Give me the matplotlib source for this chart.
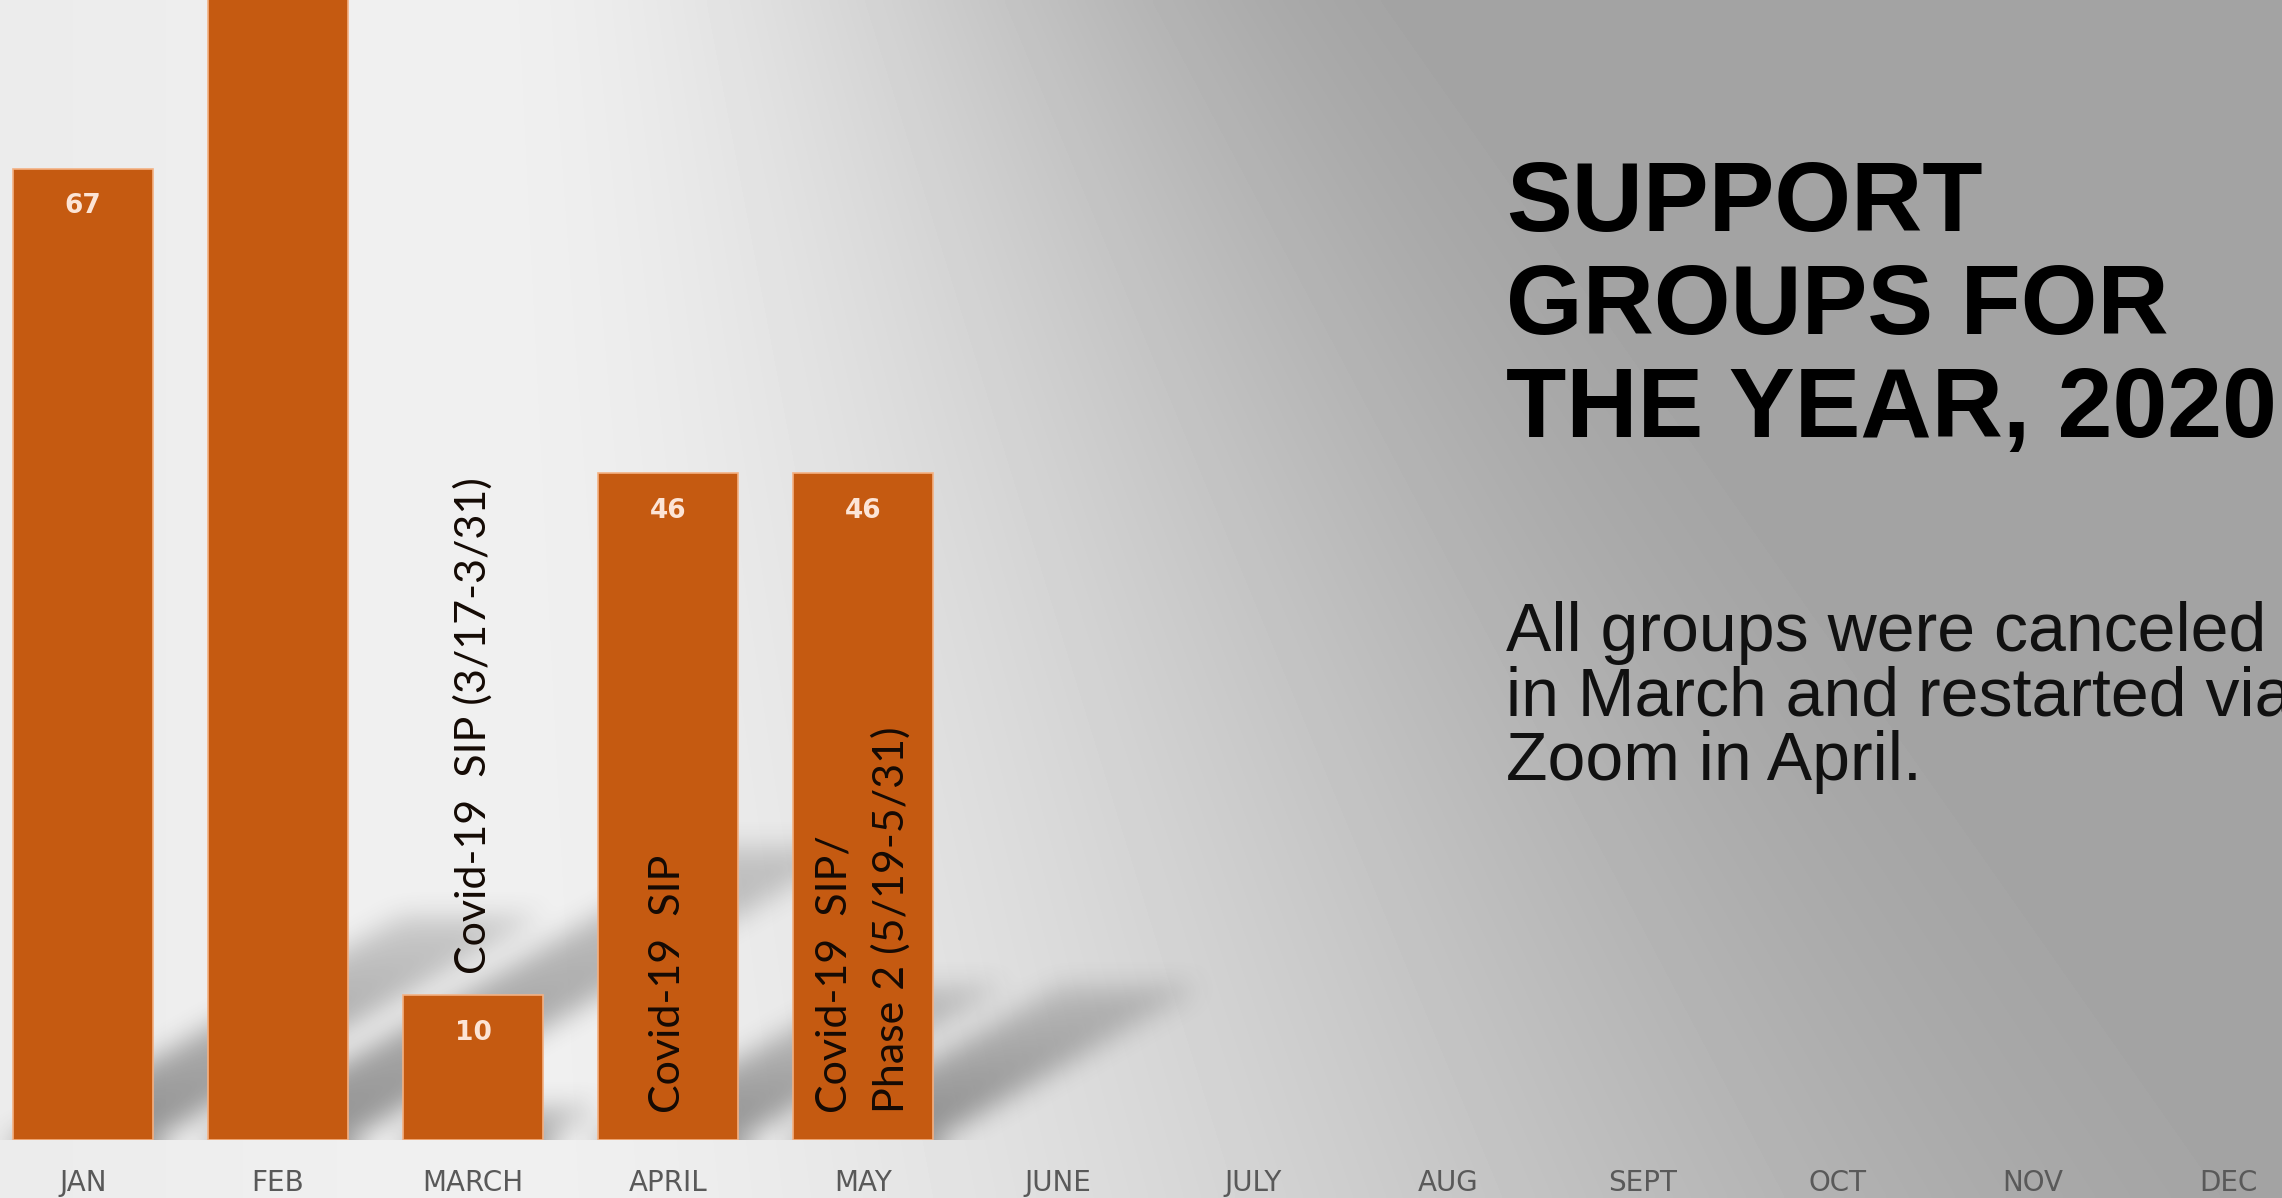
import numpy as np
import matplotlib
matplotlib.use('Agg')
import matplotlib.pyplot as plt

# Data
months = ['JAN', 'FEB', 'MARCH', 'APRIL', 'MAY', 'JUNE', 'JULY',
          'AUG', 'SEPT', 'OCT', 'NOV', 'DEC']
groups = [67, 88, 10, 46, 46]   # FEB runs off the top of the slide, value not shown
note_month = [2, 3, 4]
note_text = ['Covid-19  SIP (3/17-3/31)', 'Covid-19  SIP',
             'Covid-19  SIP/\nPhase 2 (5/19-5/31)']
note_inside = [False, True, True]
title_lines = ['SUPPORT', 'GROUPS FOR', 'THE YEAR, 2020']
body_lines = ['All groups were canceled', 'in March and restarted via',
              'Zoom in April.']

W, H, DPI = 2282, 1198, 100
bar_color = '#C55A11'
narrow = ['Liberation Sans Narrow', 'DejaVu Sans']

fig = plt.figure(figsize=(W / DPI, H / DPI), dpi=DPI)

# grey slide background: light on the left, flat grey on the right
bg = fig.add_axes([0, 0, 1, 1], zorder=0)
bg.axis('off')
sy, sx = np.mgrid[0:1:300j, 0:1:600j]
c = 0.42 + 0.2 * sy
w = 0.22 + 0.2 * sy
u = np.clip((sx - c + w) / (2 * w), 0, 1)
f = 1 - u * u * (3 - 2 * u)
shade = 163 + (240 - 163) * f - 6 * np.exp(-(sx / 0.12) ** 2) * (1 - f * 0.3)
bg.imshow(shade / 255, cmap='gray', vmin=0, vmax=1, extent=[0, 1, 0, 1],
          aspect='auto', interpolation='bicubic', origin='upper')
bg.set_xlim(0, 1)
bg.set_ylim(0, 1)

# chart axes
ax_h = 1140 / H
ax = fig.add_axes([0, 1 - ax_h, 1, ax_h], zorder=1)
ax.patch.set_alpha(0)
xlim = (-83 / 195, (W - 83) / 195)
ylim = (0, 1140 / 14.5)
ax.set_xlim(*xlim)
ax.set_ylim(*ylim)
for s in ax.spines.values():
    s.set_visible(False)
ax.set_yticks([])
ax.set_xticks(range(len(months)))
ax.set_xticklabels(months, fontsize=20, color='#595959', family=narrow)
ax.tick_params(axis='x', length=0, pad=21)

width = 0.72
x = np.arange(len(groups))
ax.bar(x, groups, width=width, color=bar_color, edgecolor='#F4B183',
       linewidth=1.2, zorder=3)

# soft perspective shadows cast up and to the right by each bar
step = 2
bb = ax.bbox
gx = np.arange(bb.x0, bb.x1, step) + step / 2
gy = np.arange(bb.y0, bb.y1, step) + step / 2
PX, PY = np.meshgrid(gx, gy)
mask = np.zeros_like(PX)
for i, v in enumerate(groups):
    (lx, by), (rx, ty) = ax.transData.transform([(i - width / 2, 0), (i + width / 2, v)])
    hp = ty - by
    t = (PY - by) / (0.23 * hp)
    shifted = PX - 0.4 * hp * t
    inside = (t >= 0) & (t <= 1) & (shifted >= lx) & (shifted <= rx)
    mask = np.maximum(mask, np.where(inside, 1 - 0.6 * t, 0))


def blur(a, r, axis):
    a = np.moveaxis(a, axis, -1)
    pad = np.pad(a, [(0, 0), (r + 1, r)], mode='edge')
    cs = np.cumsum(pad, axis=-1)
    out = (cs[:, 2 * r + 1:] - cs[:, :-2 * r - 1]) / (2 * r + 1)
    return np.moveaxis(out, -1, axis)


for _ in range(2):
    mask = blur(mask, 7, 0)
    mask = blur(mask, 7, 1)
rgba = np.zeros(mask.shape + (4,))
rgba[..., :3] = 0.2
rgba[..., 3] = 0.5 * mask
ax.imshow(rgba, origin='lower', extent=[*xlim, *ylim], aspect='auto',
          interpolation='bilinear', zorder=1)
ax.set_xlim(*xlim)
ax.set_ylim(*ylim)

# value labels inside the bar tops
for i, v in enumerate(groups):
    ax.annotate(str(v), (i, v), xytext=(0, -27), textcoords='offset points',
                ha='center', va='center', color='#FCE4D6', fontsize=19,
                fontweight='bold', family=narrow, annotation_clip=True, zorder=5)

# rotated notes
for m, txt, inside in zip(note_month, note_text, note_inside):
    if inside:
        xy, off = (m, 0), 19.5
    else:
        xy, off = (m, groups[m]), 15
    ax.annotate(txt, xy, xytext=(0, off), textcoords='offset points',
                rotation=90, ha='center', va='bottom', multialignment='left',
                fontsize=31, family=['Lato', 'DejaVu Sans'], color='#140a04',
                linespacing=1.55, zorder=5)

# title block on the right
for i, line in enumerate(title_lines):
    fig.text(1506 / W, 1 - (231 + 103 * i) / H, line, va='baseline',
             fontsize=71, fontweight='bold', family='Liberation Sans',
             color='black', zorder=5)
for i, line in enumerate(body_lines):
    fig.text(1506 / W, 1 - (651 + 64.5 * i) / H, line, va='baseline',
             fontsize=49, family='Liberation Sans', color='#111111', zorder=5)

fig.savefig('out.png', dpi=DPI)
